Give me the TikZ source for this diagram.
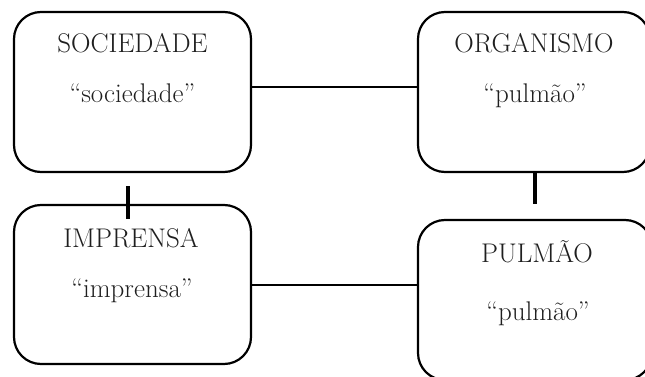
\documentclass[tikz,border=0pt]{standalone}
\usepackage{fontspec}
\begin{document}
\begin{tikzpicture}[x=1pt,y=-1pt,
  box/.style={draw=black, line width=2.2pt, rounded corners=27pt, rectangle, inner sep=0pt},
  lbl/.style={anchor=base, inner sep=0pt, text=black!88, font=\fontsize{27}{32}\selectfont},
  hline/.style={line width=2pt},
  vline/.style={line width=3.2pt}]
\useasboundingbox (0,0) rectangle (645,377);
\clip (0,0) rectangle (645,377);
\node[box, minimum width=237pt, minimum height=160pt] (soc) at (132.5,92) {};
\node[box, minimum width=237pt, minimum height=159pt] (imp) at (132.5,284.5) {};
\node[box, minimum width=232pt, minimum height=160pt] (org) at (534,92) {};
\node[box, minimum width=234pt, minimum height=160pt] (pul) at (535,300) {};
\node[lbl] (socT) at (132.5,53) {SOCIEDADE};
\node[lbl] (socS) at (132.5,103) {“sociedade”};
\node[lbl] (orgT) at (534,53) {ORGANISMO};
\node[lbl] (orgS) at (535,103) {“pulmão”};
\node[lbl] (impT) at (131,247) {IMPRENSA};
\node[lbl] (impS) at (132,297) {“imprensa”};
\node[lbl] (pulT) at (537,262) {PULMÃO};
\node[lbl] (pulS) at (538,320) {“pulmão”};
\coordinate (orgB) at ([xshift=1pt]org.south);
\coordinate (pulTop) at ([yshift=15pt]pul.north -| orgB);
\draw[hline] ([yshift=5pt]soc.east) -- ([yshift=5pt]soc.east -| org.west);
\draw[hline] (imp.east) -- (imp.east -| pul.west);
\draw[vline] ([xshift=-4.5pt,yshift=-13pt]soc.south) -- ([xshift=-4.5pt,yshift=-15pt]imp.north);
\draw[vline] (orgB) -- (pulTop);
\end{tikzpicture}
\end{document}
